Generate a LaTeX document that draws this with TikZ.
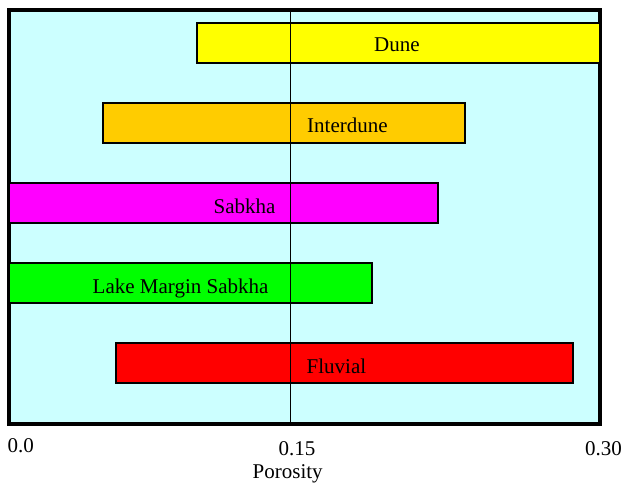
\documentclass[tikz,border=0pt]{standalone}
\usepackage{fontspec}
\setmainfont{Liberation Serif}
\definecolor{bgcyan}{HTML}{CCFFFF}
\definecolor{duneyellow}{HTML}{FFFF00}
\definecolor{interorange}{HTML}{FFCC00}
\definecolor{sabkhamag}{HTML}{FF00FF}
\definecolor{lmsgreen}{HTML}{00FF00}
\definecolor{fluvred}{HTML}{FF0000}
\tikzset{
  bar/.style={draw=black, line width=1.5pt},
  lbl/.style={anchor=base west, inner sep=0pt, font=\fontsize{21}{25}\selectfont},
  frame/.style={draw=black, line width=4.5pt},
  midline/.style={draw=black, line width=1.1pt}
}
\begin{document}
\begin{tikzpicture}[x=1pt, y=-1pt]
\useasboundingbox (0,0) rectangle (623,487);
% plot background and frame
\fill[bgcyan] (9,10) rectangle (600,424);
\draw[frame] (9,10) rectangle (600,424);
% bars
\draw[bar, fill=duneyellow]  (197,23)  rectangle (600,63);
\draw[bar, fill=interorange] (103,103) rectangle (465,143);
\draw[bar, fill=sabkhamag]   (9,183)   rectangle (438,223);
\draw[bar, fill=lmsgreen]    (9,263)   rectangle (372,303);
\draw[bar, fill=fluvred]     (116,343) rectangle (573,383);
% vertical line at 0.15
\coordinate (ltop) at (290.5,10);
\coordinate (lbot) at (290.5,424);
\draw[midline] (ltop) -- (lbot);
% bar labels
\node[lbl] (tdune)  at (374,52)  {Dune};
\node[lbl] (tinter) at (307,132) {Interdune};
\node[lbl] (tsabk)  at (213.5,213) {Sabkha};
\node[lbl] (tlms)   at (92.5,293)  {Lake Margin Sabkha};
\node[lbl] (tfluv)  at (306.5,373) {Fluvial};
% axis labels
\node[lbl] (x0)   at (7.5,452)   {0.0};
\node[lbl] (x15)  at (278.5,455) {0.15};
\node[lbl] (x30)  at (585,455)   {0.30};
\node[lbl] (xlab) at (252.5,478) {Porosity};
\end{tikzpicture}
\end{document}
